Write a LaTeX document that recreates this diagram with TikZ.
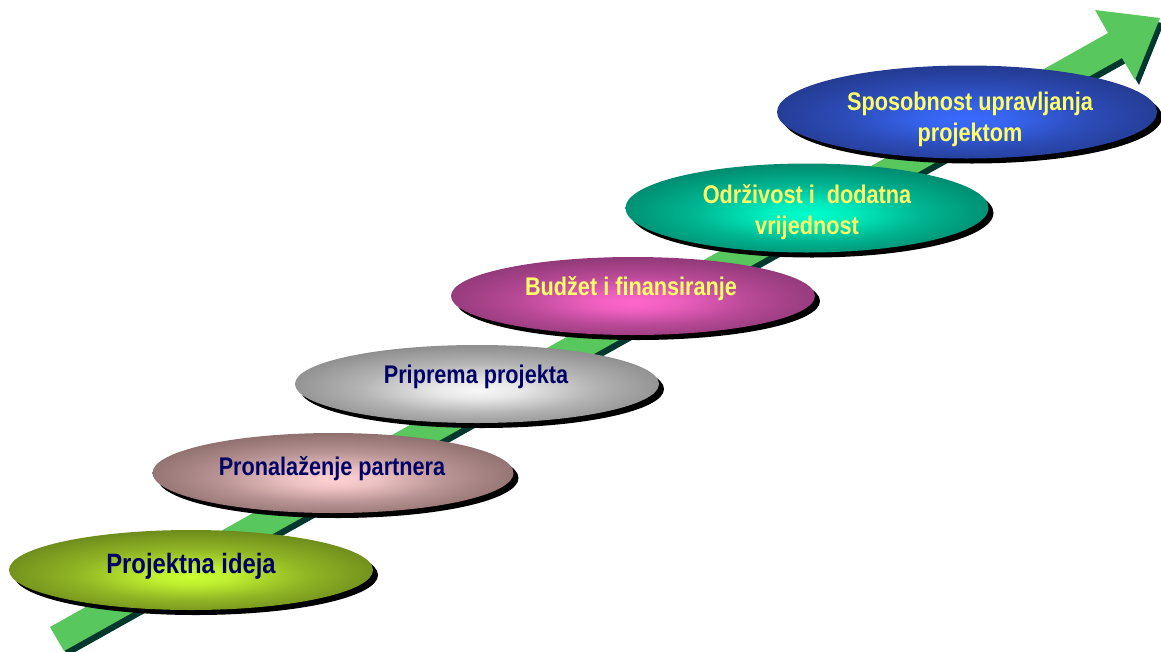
\documentclass[tikz,border=0pt]{standalone}
\usepackage{fontspec}
\setmainfont{Liberation Sans}[FakeStretch=0.85]
\usetikzlibrary{shapes.geometric,shadows}
\definecolor{arrowgreen}{HTML}{58C75E}
\definecolor{arrowshadow}{HTML}{00382E}
\definecolor{navytext}{HTML}{000066}
\definecolor{yellowtext}{HTML}{FFFF66}
\definecolor{cAin}{HTML}{CCFF33}\definecolor{cAout}{HTML}{4E6414}
\definecolor{cBin}{HTML}{FFD2D2}\definecolor{cBout}{HTML}{6A4E4E}
\definecolor{cCin}{HTML}{F8F8F8}\definecolor{cCout}{HTML}{6A6A6A}
\definecolor{cDin}{HTML}{FF66CC}\definecolor{cDout}{HTML}{6B2A5C}
\definecolor{cEin}{HTML}{00FFCC}\definecolor{cEout}{HTML}{00634F}
\definecolor{cFin}{HTML}{3A6BFF}\definecolor{cFout}{HTML}{1C2A6B}
\colorlet{ellin}{white}
\colorlet{ellout}{black}
\pgfdeclareradialshading[ellin,ellout]{ellshade}{\pgfpoint{0bp}{-4bp}}{%
  color(0bp)=(ellin); color(6bp)=(ellin!88!ellout); color(16bp)=(ellin!52!ellout);
  color(29bp)=(ellin!20!ellout); color(40bp)=(ellout); color(50bp)=(ellout)}
\tikzset{
  ellbox/.style n args={4}{ellipse, inner sep=0pt, minimum width=#1, minimum height=#2,
    /utils/exec={\colorlet{ellin}{#3}\colorlet{ellout}{#4}},
    shade, shading=ellshade,
    general shadow={fill=black, shadow xshift=5pt, shadow yshift=-5pt}},
  lbl/.style={anchor=base, align=center, inner sep=0pt, font=\bfseries\fontsize{25.5}{31}\selectfont},
}
\begin{document}
\begin{tikzpicture}[x=1pt,y=-1pt]
\useasboundingbox (0,0) rectangle (1161,651);
% arrow
\coordinate (a1) at (50,627);
\coordinate (a2) at (1108,33);
\coordinate (a3) at (1095,10);
\coordinate (a4) at (1160,18);
\coordinate (a5) at (1135,80);
\coordinate (a6) at (1122,58);
\coordinate (a7) at (64,651);
\fill[arrowshadow] ([shift={(4,5)}]a1) -- ([shift={(4,5)}]a2) -- ([shift={(4,5)}]a3) -- ([shift={(4,5)}]a4)
  -- ([shift={(4,5)}]a5) -- ([shift={(4,5)}]a6) -- ([shift={(4,5)}]a7) -- cycle;
\fill[arrowgreen] (a1) -- (a2) -- (a3) -- (a4) -- (a5) -- (a6) -- (a7) -- cycle;
% ellipses
\node[ellbox={380pt}{93pt}{cFin}{cFout}] (e6) at (967,112) {};
\node[ellbox={363pt}{89pt}{cEin}{cEout}] (e5) at (807,208) {};
\node[ellbox={364pt}{78pt}{cDin}{cDout}] (e4) at (633,296) {};
\node[ellbox={364pt}{78pt}{cCin}{cCout}] (e3) at (477,384) {};
\node[ellbox={361pt}{80pt}{cBin}{cBout}] (e2) at (333,473) {};
\node[ellbox={364pt}{80pt}{cAin}{cAout}] (e1) at (191,570) {};
% labels
\node[lbl, text=navytext, font=\bfseries\fontsize{28}{33}\selectfont] (t1) at (191,573) {Projektna ideja};
\node[lbl, text=navytext] (t2) at (332,475) {Pronalaženje partnera};
\node[lbl, text=navytext] (t3) at (476,383) {Priprema projekta};
\node[lbl, text=yellowtext] (t4) at (631,295) {Budžet i finansiranje};
\node[lbl, text=yellowtext] (t5) at (807,234) {Održivost i\ \ dodatna\\vrijednost};
\node[lbl, text=yellowtext] (t6) at (970,141) {Sposobnost upravljanja\\projektom};
\end{tikzpicture}
\end{document}
